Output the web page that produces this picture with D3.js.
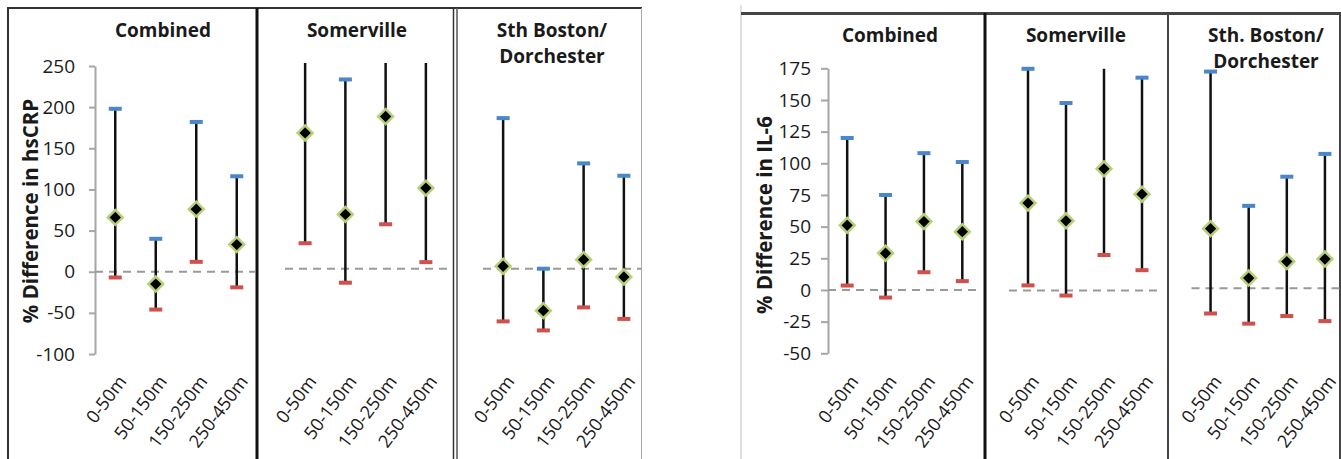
<html>
<head>
<meta charset="utf-8">
<title>% Difference in hsCRP and IL-6</title>
<script src="https://d3js.org/d3.v7.min.js"></script>
<style>
  body { margin: 0; background: #fff; }
  text { font-family: "Open Sans", sans-serif; fill: #1a1a1a; }
</style>
</head>
<body>
<div id="chart"></div>
<script>
// categories and values
const categories = ["0-50m", "50-150m", "150-250m", "250-450m"];

// hsCRP (left chart)
const crpPanels = [["Combined"], ["Somerville"], ["Sth Boston/", "Dorchester"]];
const crpEstimate = [[66, -15, 76, 33], [165, 66, 185, 98], [3, -51, 11, -10]];
const crpLower = [[-7, -46, 12, -19], [31, -17, 54, 8], [-64, -75, -47, -61]];
const crpUpper = [[198, 40, 182, 116], [262, 230, 262, 262], [183, 0, 128, 113]];
const crpTicks = [250, 200, 150, 100, 50, 0, -50, -100];

// IL-6 (right chart)
const il6Panels = [["Combined"], ["Somerville"], ["Sth. Boston/", "Dorchester"]];
const il6Estimate = [[51, 29, 54, 46], [69, 55, 96, 76], [47, 8, 21, 23]];
const il6Lower = [[3.5, -6, 14, 7], [4, -4, 28, 16], [-20, -28, -22, -26]];
const il6Upper = [[120, 75, 108, 101], [175, 148, 180, 168], [171, 65, 88, 106]];
const il6Ticks = [175, 150, 125, 100, 75, 50, 25, 0, -25, -50];

var width = 1341, height = 459;

var svg = d3.select("#chart")
    .append("svg")
    .attr("width", width)
    .attr("height", height);

// layout of both charts
var charts = [
  { panels: crpPanels, est: crpEstimate, lo: crpLower, hi: crpUpper, ticks: crpTicks,
    domain: [-100, 250], yTitle: "% Difference in hsCRP",
    axisX: 95, yTop: 66, yBottom: 354, tickLen: 6, tickPad: 14,
    panelX: [[95, 257], [285, 446], [483, 644]], shift: [0, -3, -3], zeroEnd: [255, 448, 641],
    titleX: [163, 357, 552], titleY: 37,
    yTitleX: 38, yTitleY: 211, labelY: 378 },
  { panels: il6Panels, est: il6Estimate, lo: il6Lower, hi: il6Upper, ticks: il6Ticks,
    domain: [-50, 175], yTitle: "% Difference in IL-6",
    axisX: 828, yTop: 68.3, yBottom: 353.3, tickLen: 7, tickPad: 10,
    panelX: [[828, 981.5], [1009, 1161], [1191.5, 1344]], shift: [0, 0.5, -1.8], zeroEnd: [981, 1162, 1340],
    titleX: [890, 1076, 1266], titleY: 42,
    yTitleX: 772, yTitleY: 215, labelY: 378 }
];

// frames
svg.append("line").attr("x1", 8).attr("x2", 8).attr("y1", 7).attr("y2", height)
    .attr("stroke", "#333").attr("stroke-width", 2);
svg.append("line").attr("x1", 7).attr("x2", 642).attr("y1", 8).attr("y2", 8)
    .attr("stroke", "#333").attr("stroke-width", 2);
svg.append("line").attr("x1", 257).attr("x2", 257).attr("y1", 8).attr("y2", height)
    .attr("stroke", "#111").attr("stroke-width", 3);
svg.append("line").attr("x1", 453.5).attr("x2", 453.5).attr("y1", 8).attr("y2", height)
    .attr("stroke", "#333").attr("stroke-width", 1.5);
svg.append("line").attr("x1", 457).attr("x2", 457).attr("y1", 8).attr("y2", height)
    .attr("stroke", "#555").attr("stroke-width", 1.5);
svg.append("line").attr("x1", 641.5).attr("x2", 641.5).attr("y1", 8).attr("y2", height)
    .attr("stroke", "#aaa").attr("stroke-width", 1);

svg.append("line").attr("x1", 741).attr("x2", 741).attr("y1", 5).attr("y2", height)
    .attr("stroke", "#d4d4d4").attr("stroke-width", 1.5);
svg.append("line").attr("x1", 741).attr("x2", width).attr("y1", 13.5).attr("y2", 13.5)
    .attr("stroke", "#444").attr("stroke-width", 3);
svg.append("line").attr("x1", 985).attr("x2", 985).attr("y1", 13).attr("y2", height)
    .attr("stroke", "#111").attr("stroke-width", 3);
svg.append("line").attr("x1", 1168).attr("x2", 1168).attr("y1", 13).attr("y2", height)
    .attr("stroke", "#444").attr("stroke-width", 2);
svg.append("line").attr("x1", 1340).attr("x2", 1340).attr("y1", 13).attr("y2", height)
    .attr("stroke", "#444").attr("stroke-width", 2);

var diamond = d3.symbol().type(d3.symbolSquare).size(110);

charts.forEach(function(c) {

    // Y axis (only in first panel)
    var y0 = d3.scaleLinear().domain(c.domain).range([c.yBottom, c.yTop]);
    var ax = svg.append("g")
        .attr("transform", "translate(" + c.axisX + ",0)")
        .call(d3.axisLeft(y0).tickValues(c.ticks).tickSize(c.tickLen).tickSizeOuter(0)
              .tickPadding(c.tickPad)
              .tickFormat(function(d) { return String(d); }));
    ax.select(".domain").attr("stroke", "#a6a6a6").attr("stroke-width", 2);
    ax.selectAll(".tick line").attr("stroke", "#a6a6a6").attr("stroke-width", 2);
    ax.selectAll(".tick text")
        .style("font-family", "'Open Sans', sans-serif")
        .style("font-size", "19px")
        .attr("fill", "#1a1a1a");

    svg.append("text")
        .attr("transform", "translate(" + c.yTitleX + "," + c.yTitleY + ") rotate(-90)")
        .style("text-anchor", "middle")
        .style("font-size", "20.5px")
        .style("font-weight", "bold")
        .text(c.yTitle);

    c.panels.forEach(function(title, p) {
        var x = d3.scaleBand().domain(categories).range(c.panelX[p]);
        var y = d3.scaleLinear().domain(c.domain)
            .range([c.yBottom + c.shift[p], c.yTop + c.shift[p]]);
        var top = c.domain[1];

        // panel title
        svg.append("text")
            .attr("x", c.titleX[p])
            .attr("y", c.titleY)
            .style("text-anchor", "middle")
            .style("font-size", "19px")
            .style("font-weight", "bold")
            .selectAll("tspan")
            .data(title)
            .enter()
            .append("tspan")
                .attr("x", c.titleX[p])
                .attr("dy", function(d, i) { return i == 0 ? 0 : 26; })
                .text(function(d) { return d; });

        // zero line
        svg.append("line")
            .attr("x1", c.panelX[p][0]).attr("x2", c.zeroEnd[p])
            .attr("y1", y(0)).attr("y2", y(0))
            .attr("stroke", "#999")
            .attr("stroke-width", 2)
            .attr("stroke-dasharray", "8,6");

        var rows = categories.map(function(cat, i) {
            return { cat: cat, est: c.est[p][i], lo: c.lo[p][i], hi: c.hi[p][i] };
        });

        var g = svg.append("g");

        // whiskers
        g.selectAll(".whisker")
            .data(rows)
            .enter()
            .append("line")
                .attr("x1", function(d) { return x(d.cat) + x.bandwidth()/2; })
                .attr("x2", function(d) { return x(d.cat) + x.bandwidth()/2; })
                .attr("y1", function(d) { return y(d.lo); })
                .attr("y2", function(d) { return y(Math.min(d.hi, top)); })
                .attr("stroke", "#111")
                .attr("stroke-width", 2.5);

        // upper caps (not drawn when cut off by the axis)
        g.selectAll(".hi")
            .data(rows.filter(function(d) { return d.hi <= top; }))
            .enter()
            .append("rect")
                .attr("x", function(d) { return x(d.cat) + x.bandwidth()/2 - 6.5; })
                .attr("y", function(d) { return y(d.hi) - 2; })
                .attr("width", 13)
                .attr("height", 4)
                .attr("fill", "#4a86c8");

        // lower caps
        g.selectAll(".lo")
            .data(rows)
            .enter()
            .append("rect")
                .attr("x", function(d) { return x(d.cat) + x.bandwidth()/2 - 6.5; })
                .attr("y", function(d) { return y(d.lo) - 2; })
                .attr("width", 13)
                .attr("height", 4)
                .attr("fill", "#d0504c");

        // estimates
        g.selectAll(".pt")
            .data(rows)
            .enter()
            .append("path")
                .attr("d", diamond)
                .attr("transform", function(d) {
                    return "translate(" + (x(d.cat) + x.bandwidth()/2) + "," + y(d.est) + ") rotate(45)";
                })
                .attr("fill", "#000")
                .attr("stroke", "#b6d07a")
                .attr("stroke-width", 2.5);

        // category labels
        svg.append("g")
            .selectAll("text")
            .data(categories)
            .enter()
            .append("text")
                .attr("transform", function(d) {
                    return "translate(" + (x(d) + x.bandwidth()/2 + 7) + "," + c.labelY + ") rotate(-53)";
                })
                .attr("dy", "0.35em")
                .style("text-anchor", "end")
                .style("font-size", "18px")
                .text(function(d) { return d; });
    });
});
</script>
</body>
</html>
